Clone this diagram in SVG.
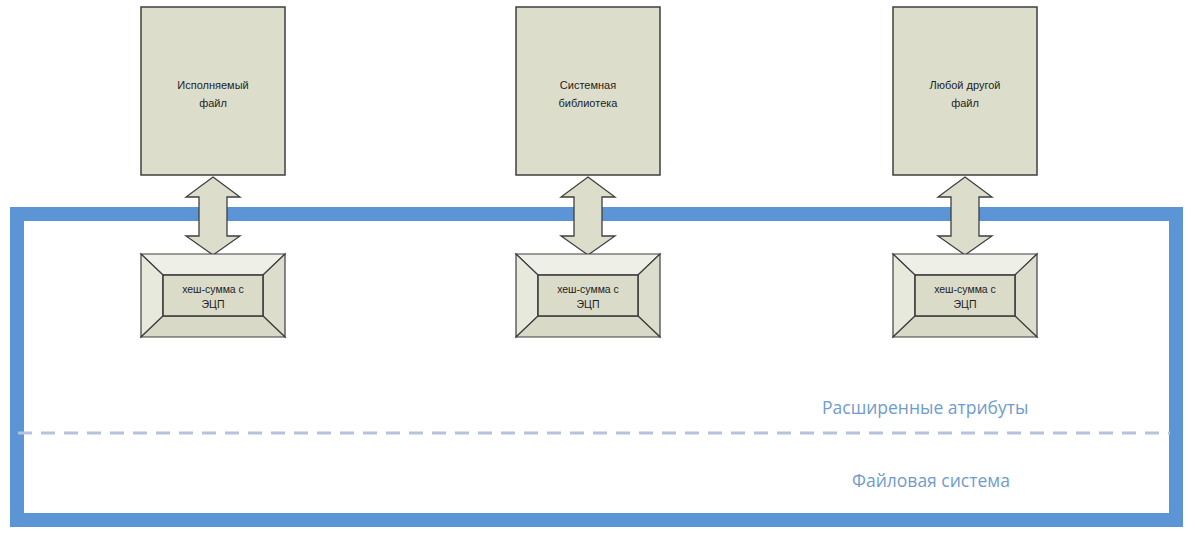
<svg xmlns="http://www.w3.org/2000/svg" width="1195" height="533" viewBox="0 0 1195 533">
  <style>
    .box{fill:#dcddcb;stroke:#3f3f3f;stroke-width:1.5}
    .arrow{fill:#dcddcb;stroke:#3f3f3f;stroke-width:1.3;stroke-linejoin:miter}
    .face-top{fill:#eeefe6;stroke:#3f3f3f;stroke-width:1.2}
    .face-left{fill:#e8e9dd;stroke:#3f3f3f;stroke-width:1.2}
    .face-right{fill:#dcddcc;stroke:#3f3f3f;stroke-width:1.2}
    .face-bot{fill:#d8d9c6;stroke:#3f3f3f;stroke-width:1.2}
    .face-in{fill:#dadbc8;stroke:#3f3f3f;stroke-width:1.6}
    .lbl{font-family:"Liberation Sans",Arial,sans-serif;font-size:11px;fill:#1e1e1e;text-anchor:middle}
    .hlbl{font-family:"Liberation Sans",Arial,sans-serif;font-size:10.5px;fill:#1e1e1e;text-anchor:middle}
    .zone{font-family:"Open Sans","Liberation Sans",sans-serif;font-size:17.5px;fill:#6f9ccb}
  </style>
  <rect width="1195" height="533" fill="#ffffff"/>
  <g id="filesystem">
    <rect x="17" y="214" width="1159" height="306" fill="none" stroke="#5b95d5" stroke-width="14"/>
    <line x1="18" y1="433" x2="1170" y2="433" stroke="#b6c2de" stroke-width="3" stroke-dasharray="14 9"/>
    <text class="zone" x="822" y="414">Расширенные атрибуты</text>
    <text class="zone" x="852" y="487">Файловая система</text>
  </g>
  <g id="connectors">
    <polygon class="arrow" points="213,177 240,197 227,197 227,236 240,236 213,255 186,236 199,236 199,197 186,197"/>
    <polygon class="arrow" points="588,177 615,197 602,197 602,236 615,236 588,255 561,236 574,236 574,197 561,197"/>
    <polygon class="arrow" points="965,177 992,197 979,197 979,236 992,236 965,255 938,236 951,236 951,197 938,197"/>
  </g>
  <g id="file1">
    <rect class="box" x="141" y="7" width="144" height="168"/>
    <text class="lbl" x="213" y="89">Исполняемый</text>
    <text class="lbl" x="213" y="107">файл</text>
  </g>
  <g id="file2">
    <rect class="box" x="516" y="7" width="144" height="168"/>
    <text class="lbl" x="588" y="89">Системная</text>
    <text class="lbl" x="588" y="107">библиотека</text>
  </g>
  <g id="file3">
    <rect class="box" x="893" y="7" width="144" height="168"/>
    <text class="lbl" x="965" y="89">Любой другой</text>
    <text class="lbl" x="965" y="107">файл</text>
  </g>
  <g id="hash1">
    <polygon class="face-top" points="141,254 285,254 263,275 163,275"/>
    <polygon class="face-left" points="141,254 163,275 163,316 141,337"/>
    <polygon class="face-right" points="285,254 285,337 263,316 263,275"/>
    <polygon class="face-bot" points="141,337 163,316 263,316 285,337"/>
    <rect class="face-in" x="163" y="275" width="100" height="41"/>
    <text class="hlbl" x="213" y="293">хеш-сумма с</text>
    <text class="hlbl" x="213" y="308">ЭЦП</text>
  </g>
  <g id="hash2">
    <polygon class="face-top" points="516,254 660,254 638,275 538,275"/>
    <polygon class="face-left" points="516,254 538,275 538,316 516,337"/>
    <polygon class="face-right" points="660,254 660,337 638,316 638,275"/>
    <polygon class="face-bot" points="516,337 538,316 638,316 660,337"/>
    <rect class="face-in" x="538" y="275" width="100" height="41"/>
    <text class="hlbl" x="588" y="293">хеш-сумма с</text>
    <text class="hlbl" x="588" y="308">ЭЦП</text>
  </g>
  <g id="hash3">
    <polygon class="face-top" points="893,254 1037,254 1015,275 915,275"/>
    <polygon class="face-left" points="893,254 915,275 915,316 893,337"/>
    <polygon class="face-right" points="1037,254 1037,337 1015,316 1015,275"/>
    <polygon class="face-bot" points="893,337 915,316 1015,316 1037,337"/>
    <rect class="face-in" x="915" y="275" width="100" height="41"/>
    <text class="hlbl" x="965" y="293">хеш-сумма с</text>
    <text class="hlbl" x="965" y="308">ЭЦП</text>
  </g>
</svg>
